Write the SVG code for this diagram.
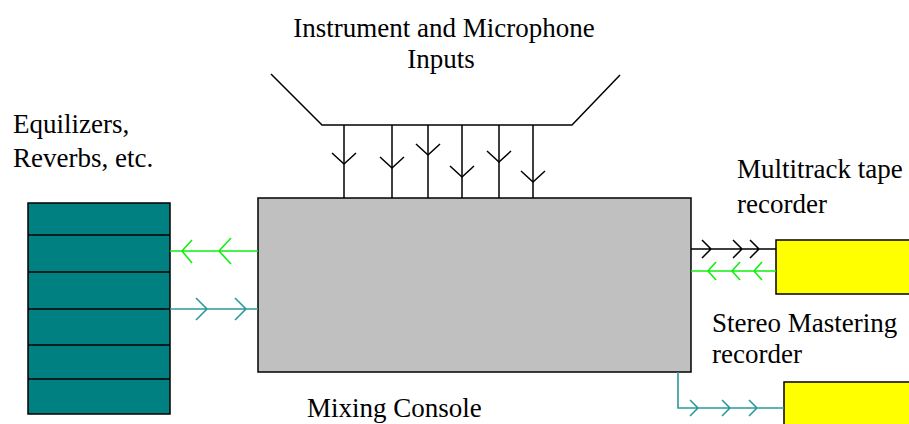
<svg xmlns="http://www.w3.org/2000/svg" width="909" height="424" viewBox="0 0 909 424">
<style>
text{font-family:"Liberation Serif","Times New Roman",serif;font-size:27px;fill:#000}
.blk{stroke:#000;stroke-width:1.5;fill:none}
.grn{stroke:#11ee11;stroke-width:1.6;fill:none}
.tl{stroke:#2a9a9a;stroke-width:1.6;fill:none}
</style>
<rect width="909" height="424" fill="#fff"/>
<g id="effects">
<rect x="28" y="203" width="142" height="211" fill="#008080" stroke="#000" stroke-width="1.5"/>
<path class="blk" d="M28 235H170M28 272H170M28 309H170M28 345H170M28 379H170"/>
<text x="13" y="133">Equilizers,</text>
<text x="13" y="167">Reverbs, etc.</text>
</g>
<g id="console">
<rect x="258" y="198" width="433" height="174" fill="#c0c0c0" stroke="#000" stroke-width="1.5"/>
<text x="307" y="417" font-size="26">Mixing Console</text>
</g>
<g id="inputs">
<path class="blk" d="M271 74L322 125H572L620 75"/>
<text x="444" y="37" text-anchor="middle">Instrument and Microphone</text>
<text x="441" y="68" text-anchor="middle">Inputs</text>
</g>
<g id="multitrack">
<rect x="776" y="240" width="140" height="54" fill="#ffff00" stroke="#000" stroke-width="1.5"/>
<text x="737" y="178">Multitrack tape</text>
<text x="737" y="213">recorder</text>
</g>
<g id="stereo">
<rect x="784" y="382" width="140" height="60" fill="#ffff00" stroke="#000" stroke-width="1.5"/>
<text x="712" y="332">Stereo Mastering</text>
<text x="712" y="363">recorder</text>
</g>
<g id="connectors">
<path class="blk" d="M344 125V198M392 125V198M428 125V198M462 125V198M499 125V198M533 125V198"/>
<path class="blk" d="M332 153L344 164L356 153M380 157L392 168L404 157M416 144L428 155L440 144M450 166L462 177L474 166M487 151L499 162L511 151M521 171L533 182L545 171"/>
<path class="grn" d="M258 251H170M192 240L182 251L192 263M231 238L219 251L231 264"/>
<path class="tl" d="M170 309H258M196 298L207 309L196 320M235 298L246 309L235 320"/>
<path class="blk" d="M691 249H776M702 240L711 249L702 258M733 240L742 249L733 258M750 240L759 249L750 258"/>
<path class="grn" d="M776 271H691M716 262L708 271L716 280M740 262L732 271L740 280M762 262L754 271L762 280"/>
<path class="tl" d="M678 372V408H784M690 400L698 408L690 416M722 400L730 408L722 416M749 400L757 408L749 416"/>
</g>
</svg>
